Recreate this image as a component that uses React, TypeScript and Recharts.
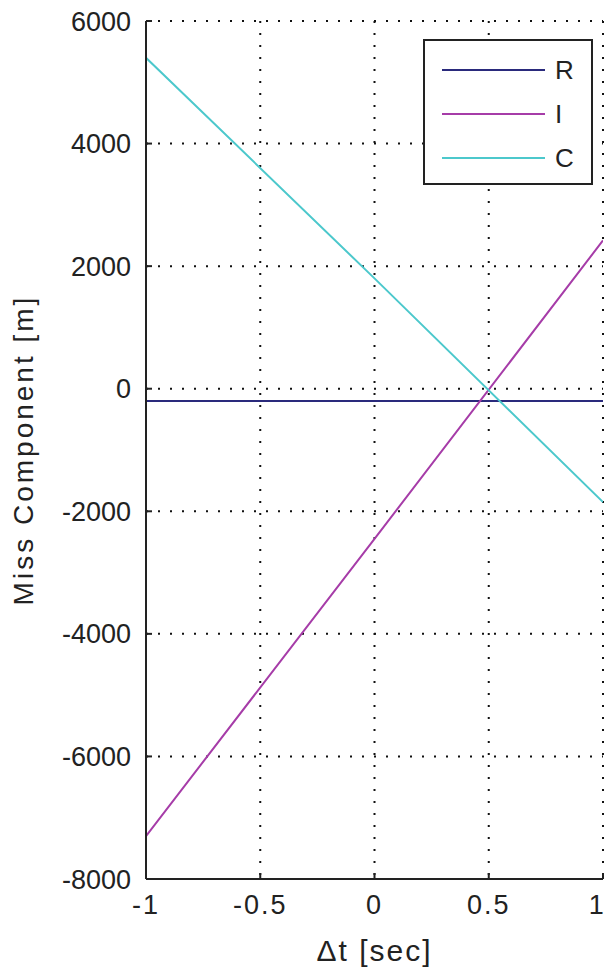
import { LineChart, Line, XAxis, YAxis, CartesianGrid, Legend } from 'recharts'

// Δt [sec] sample points and miss components [m]
const dtValues = [-1, 0, 1]
const rValues = [-200, -200, -200]
const iValues = [-7300, -2450, 2420]
const cValues = [5400, 1800, -1850]

const xTicks = [-1, -0.5, 0, 0.5, 1]
const yTicks = [-8000, -6000, -4000, -2000, 0, 2000, 4000, 6000]
const xMinorTicks = Array.from({ length: 41 }, (_, i) => Math.round((-1 + i * 0.05) * 100) / 100)

const seriesNames = ['R', 'I', 'C']
const seriesColors = ['#2a2a7c', '#a63ca8', '#4cc8cc']

const data = dtValues.map((t, i) => ({ t, R: rValues[i], I: iValues[i], C: cValues[i] }))

const font = '"Liberation Sans", Arial, sans-serif'
const axisColor = '#222'
const tickFont = { fontSize: 27, fill: '#222', fontFamily: font }

function LegendBox({ payload }: any) {
  const items = [...(payload || [])].sort(
    (a: any, b: any) => seriesNames.indexOf(a.value) - seriesNames.indexOf(b.value)
  )
  return (
    <div
      style={{
        border: `2px solid ${axisColor}`,
        background: '#fff',
        boxSizing: 'border-box',
        width: 170,
        height: 146,
        paddingTop: 7,
        fontFamily: font,
      }}
    >
      {items.map((p: any) => (
        <div key={p.value} style={{ display: 'flex', alignItems: 'center', height: 44 }}>
          <div style={{ marginLeft: 17, width: 103, height: 2, background: p.color }} />
          <span style={{ marginLeft: 10, fontSize: 26, color: '#222' }}>{p.value}</span>
        </div>
      ))}
    </div>
  )
}

export default function App() {
  return (
    <div>
      <style>{'body{margin:0;background:#fff}'}</style>
      <LineChart
        width={605}
        height={970}
        data={data}
        margin={{ top: 21, right: 2, bottom: 31, left: 86 }}
      >
        <CartesianGrid
          xAxisId="bottom"
          yAxisId="left"
          stroke="#111"
          strokeWidth={2}
          strokeDasharray="2 10"
          fill="#fff"
        />
        <XAxis
          xAxisId="bottom"
          dataKey="t"
          type="number"
          domain={[-1, 1]}
          ticks={xTicks}
          allowDataOverflow
          height={60}
          tickSize={-6}
          tickMargin={22}
          tick={{ ...tickFont, letterSpacing: 2 }}
          tickFormatter={(v: number) => String(v)}
          stroke={axisColor}
          axisLine={{ stroke: axisColor, strokeWidth: 2 }}
          tickLine={{ stroke: axisColor, strokeWidth: 2 }}
          label={({ viewBox }: any) => (
            <text
              x={viewBox.x + viewBox.width / 2}
              y={viewBox.y + 71}
              textAnchor="middle"
              dominantBaseline="central"
              fontSize={30}
              letterSpacing={2}
              fill="#222"
              fontFamily={font}
            >
              Δt [sec]
            </text>
          )}
        />
        <XAxis
          xAxisId="topMinor"
          orientation="top"
          type="number"
          domain={[-1, 1]}
          ticks={xMinorTicks}
          interval={0}
          height={0}
          tick={false}
          tickSize={-3}
          axisLine={{ stroke: axisColor, strokeWidth: 2 }}
          tickLine={{ stroke: axisColor, strokeWidth: 1.5 }}
        />
        <XAxis
          xAxisId="topMajor"
          orientation="top"
          type="number"
          domain={[-1, 1]}
          ticks={xTicks}
          height={0}
          tick={false}
          tickSize={-6}
          axisLine={false}
          tickLine={{ stroke: axisColor, strokeWidth: 2 }}
        />
        <YAxis
          yAxisId="left"
          type="number"
          domain={[-8000, 6000]}
          ticks={yTicks}
          interval={0}
          width={60}
          tickSize={-6}
          tickMargin={21}
          tick={tickFont}
          axisLine={{ stroke: axisColor, strokeWidth: 2 }}
          tickLine={{ stroke: axisColor, strokeWidth: 2 }}
          label={({ viewBox }: any) => (
            <text
              x={viewBox.x - 63}
              y={viewBox.y + viewBox.height / 2}
              transform={`rotate(-90 ${viewBox.x - 63} ${viewBox.y + viewBox.height / 2})`}
              textAnchor="middle"
              dominantBaseline="central"
              fontSize={28}
              letterSpacing={3}
              fill="#222"
              fontFamily={font}
            >
              Miss Component [m]
            </text>
          )}
        />
        <YAxis
          yAxisId="right"
          orientation="right"
          type="number"
          domain={[-8000, 6000]}
          ticks={yTicks}
          interval={0}
          width={0}
          tick={false}
          tickSize={-6}
          axisLine={{ stroke: axisColor, strokeWidth: 2 }}
          tickLine={{ stroke: axisColor, strokeWidth: 2 }}
        />
        <Legend
          layout="horizontal"
          verticalAlign="middle"
          align="center"
          content={<LegendBox />}
          wrapperStyle={{ position: 'absolute', left: 423, top: 39, width: 170, height: 146 }}
        />
        {seriesNames.map((name, i) => (
          <Line
            key={name}
            xAxisId="bottom"
            yAxisId="left"
            dataKey={name}
            name={name}
            stroke={seriesColors[i]}
            strokeWidth={2}
            dot={false}
            isAnimationActive={false}
          />
        ))}
      </LineChart>
    </div>
  )
}
